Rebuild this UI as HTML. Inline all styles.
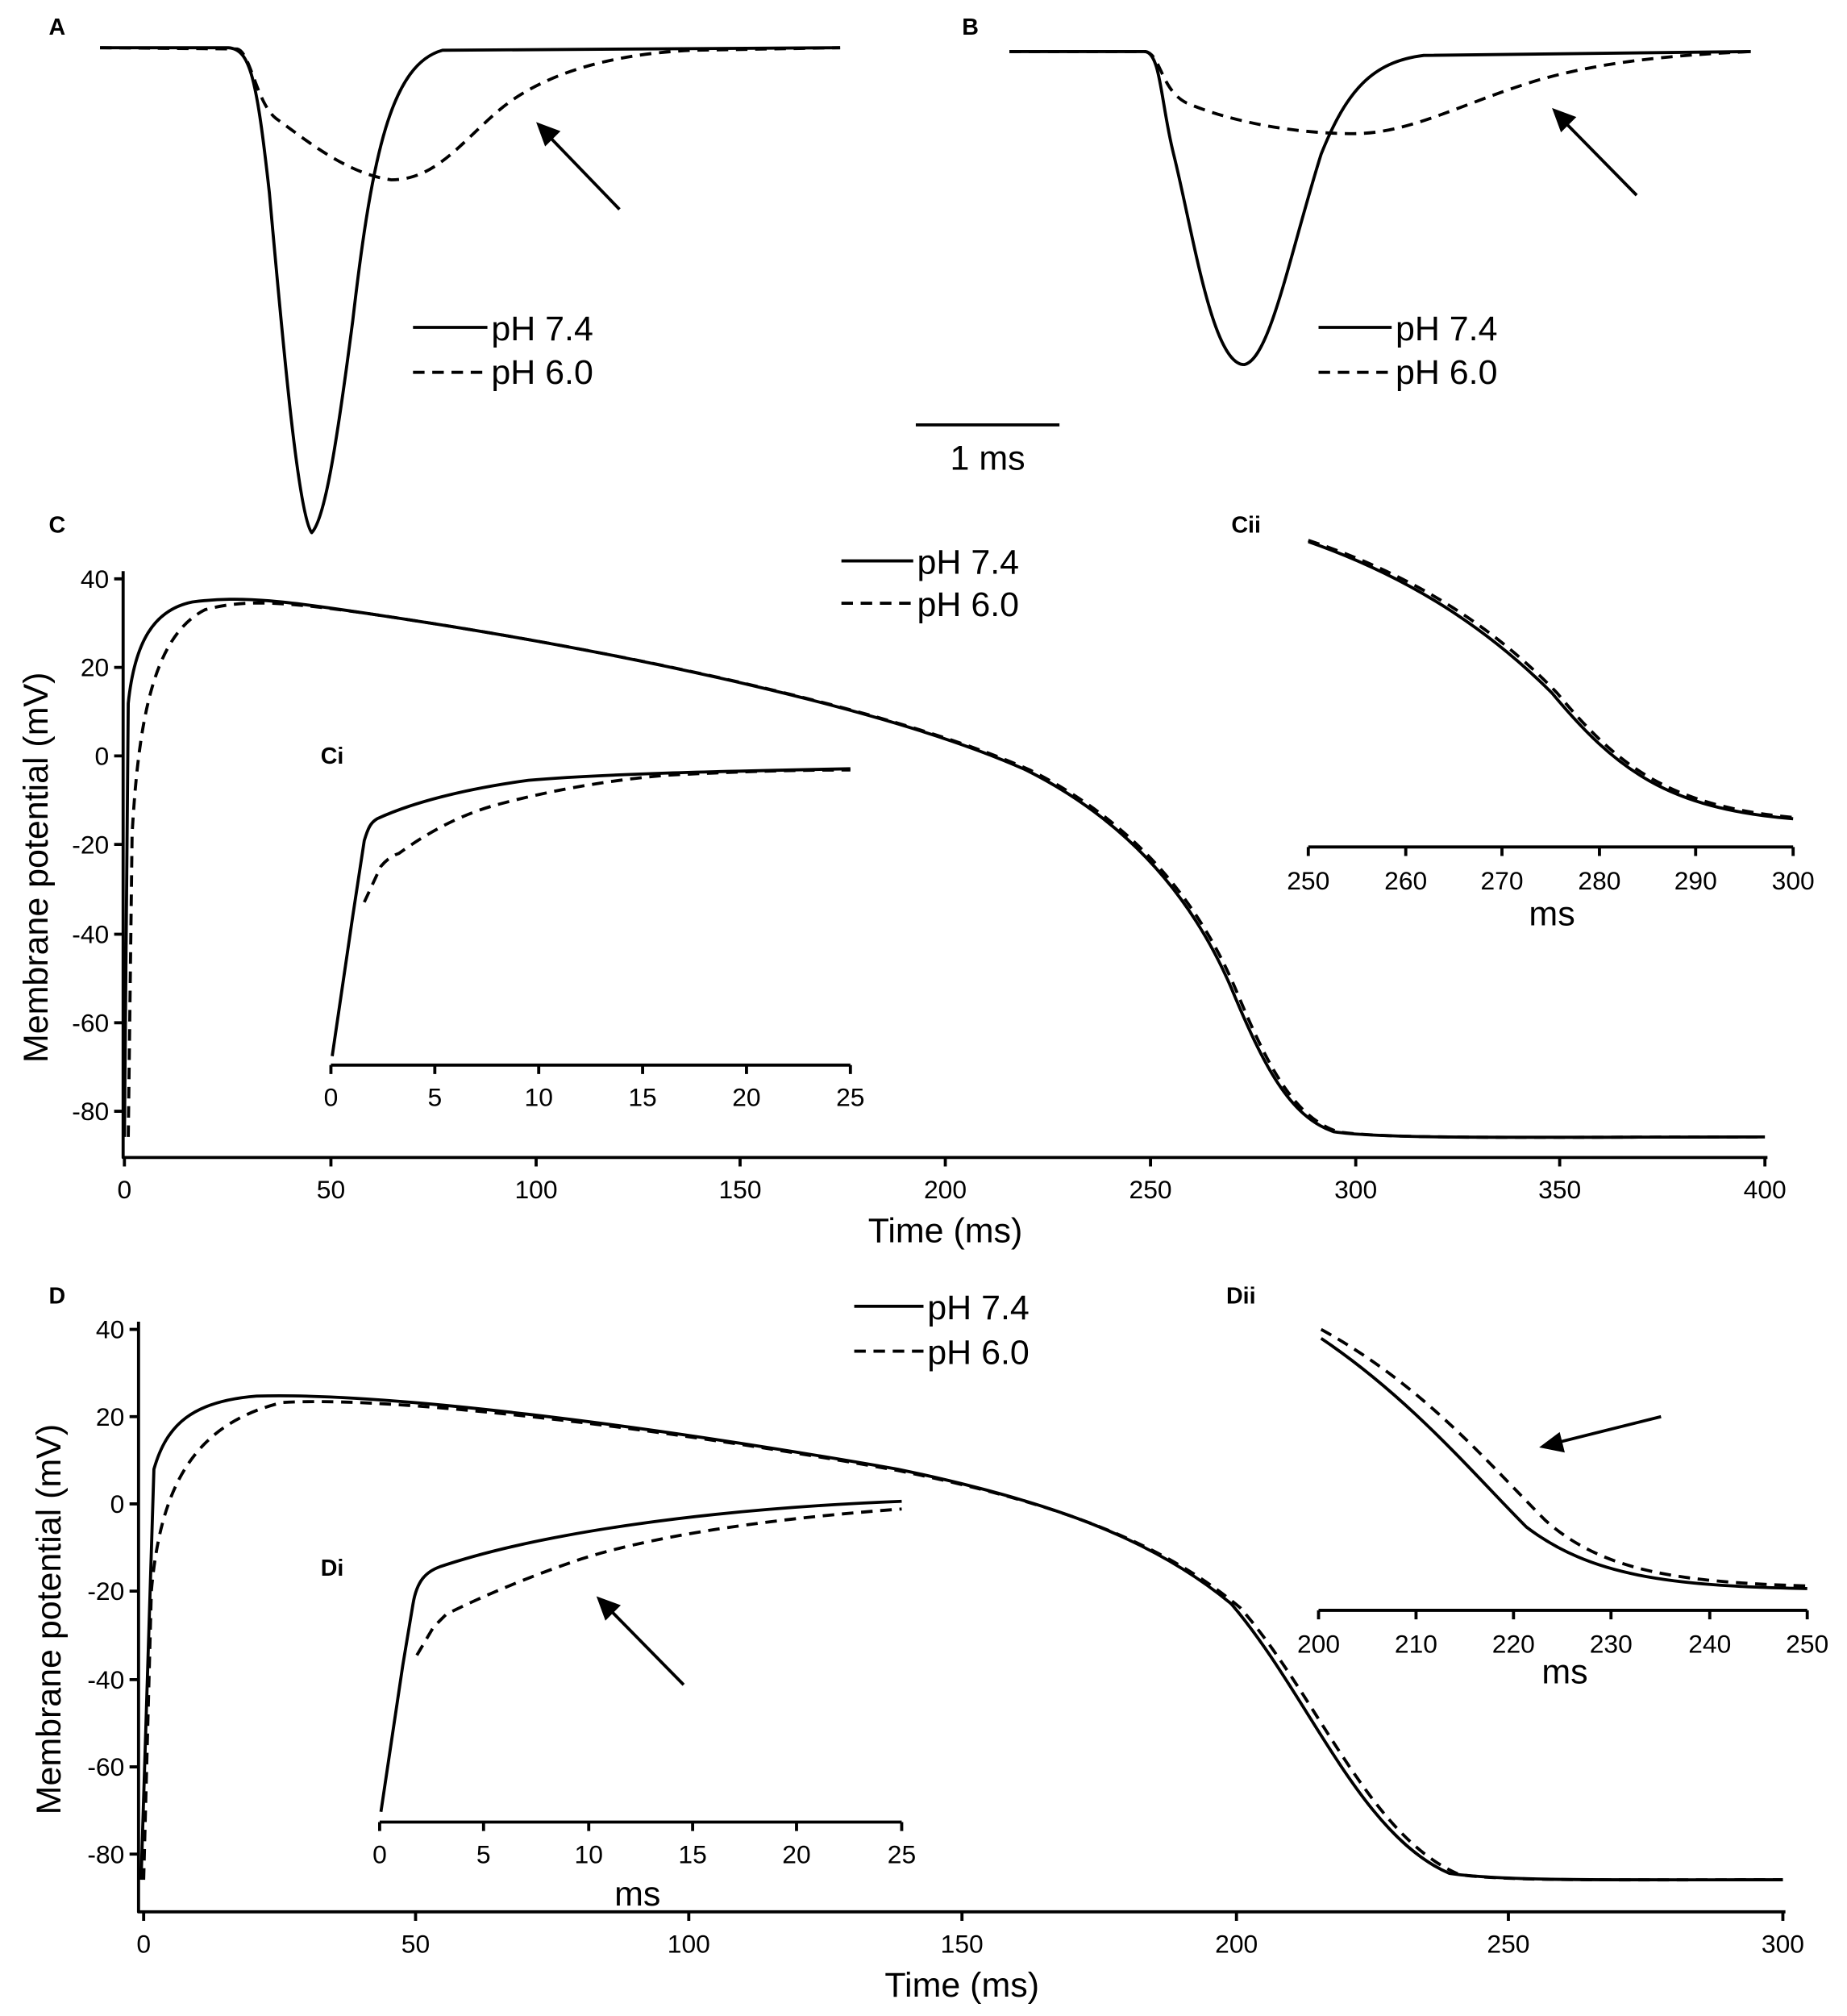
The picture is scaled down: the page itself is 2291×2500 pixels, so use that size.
<!DOCTYPE html>
<html><head><meta charset="utf-8"><style>html,body{margin:0;padding:0;background:#fff}svg{display:block}</style></head>
<body>
<svg xmlns="http://www.w3.org/2000/svg" width="2291" height="2500" viewBox="0 0 1440 1571" font-family="Liberation Sans, Arial, sans-serif">
<rect width="1440" height="1571" fill="#fff"/>
<g fill="none" stroke="#000" stroke-width="2.4" stroke-linejoin="round">
<!-- A -->
<path d="M78,37 L178,37 C195,38 200,60 210,150 C220,260 232,400 243,415 C253,405 262,350 275,250 C290,120 305,50 345,39 L655,37"/>
<path stroke-dasharray="9,6" d="M78,37 L185,38 C195,40 200,80 215,92 C240,110 270,135 305,140 C340,140 360,110 390,85 C420,60 470,42 540,39 L655,37"/>
<!-- B -->
<path d="M787,40 L893,40 C905,42 905,80 915,120 C930,180 945,284 970,284 C990,280 1005,200 1030,120 C1050,70 1070,48 1110,43 L1365,40"/>
<path stroke-dasharray="9,6" d="M787,40 L893,40 C905,42 905,70 925,80 C960,95 1010,104 1055,104 C1100,104 1140,80 1200,62 C1250,48 1300,43 1365,40"/>
<path d="M714,331 L826,331"/>
<!-- C main -->
<path d="M96,445 L96,902 L1378,902"/>
<path d="M97,886 L100,548 C105,500 120,475 150,469 C190,464 220,468 300,480 C500,510 700,555 800,600 C880,640 930,700 960,770 C985,830 1005,870 1040,882 C1080,888 1200,886 1376,886"/>
<path stroke-dasharray="9,6" d="M100,886 L103,650 C108,560 120,495 160,475 C190,467 220,468 300,480 C500,510 702,555 803,600 C883,640 933,700 963,770 C988,830 1008,870 1043,882 C1083,888 1200,886 1376,886"/>
<!-- Ci -->
<path d="M258,830 L663,830"/>
<path d="M259,823 L275,714 L284,655 C287,645 289,641 294,638 C320,626 360,615 412,608 C470,603 560,601 663,599"/>
<path stroke-dasharray="9,6" d="M284,703 L297,675 C303,668 308,666 311,665 C325,655 350,638 384,628 C420,618 470,608 521,604 C580,601 620,600 663,600"/>
<!-- Cii -->
<path d="M1020,660 L1398,660"/>
<path d="M1020,422 C1100,450 1160,490 1210,540 C1260,600 1300,630 1398,638"/>
<path stroke-dasharray="9,6" d="M1020,421 C1102,448 1164,488 1214,540 C1262,598 1302,628 1398,637"/>
<!-- D main -->
<path d="M108,1030 L108,1490 L1392,1490"/>
<path d="M110,1465 L120,1145 C130,1110 150,1092 200,1088 C300,1085 500,1110 700,1145 C820,1170 900,1200 960,1250 C1020,1320 1060,1430 1130,1460 C1170,1466 1250,1465 1390,1465"/>
<path stroke-dasharray="9,6" d="M112,1465 L118,1240 C125,1160 150,1110 220,1093 C300,1088 500,1110 700,1146 C824,1171 906,1202 967,1253 C1028,1323 1068,1432 1138,1461 C1175,1466 1250,1465 1390,1465"/>
<!-- Di -->
<path d="M296,1420 L703,1420"/>
<path d="M297,1412 L314,1298 L322,1250 C325,1232 332,1225 343,1221 C420,1195 550,1176 703,1170"/>
<path stroke-dasharray="9,6" d="M325,1290 L338,1268 L348,1258 C380,1242 420,1226 453,1215 C500,1200 580,1185 703,1176"/>
<!-- Dii -->
<path d="M1028,1255 L1409,1255"/>
<path d="M1030,1043 C1100,1090 1150,1150 1190,1190 C1240,1228 1300,1236 1409,1238"/>
<path stroke-dasharray="9,6" d="M1030,1036 C1110,1080 1160,1140 1205,1185 C1250,1225 1310,1233 1409,1236"/>
<!-- legends -->
<path d="M322,255 L380,255 M1028,255 L1085,255 M656,437 L712,437 M666,1018 L720,1018"/>
<path stroke-dasharray="9,6" d="M322,290 L380,290 M1028,290 L1085,290 M656,470 L712,470 M666,1053 L720,1053"/>
<!-- arrows -->
<path d="M483,163 L428,106 M1276,152 L1220,95 M533,1313 L475,1254 M1295,1104 L1215,1124"/>
<!-- ticks C -->
<path d="M89,451 H96 M89,520 H96 M89,589 H96 M89,658 H96 M89,728 H96 M89,797 H96 M89,866 H96"/>
<path d="M97,902 V909 M258,902 V909 M418,902 V909 M577,902 V909 M737,902 V909 M897,902 V909 M1057,902 V909 M1216,902 V909 M1376,902 V909"/>
<path d="M258,830 V837 M339,830 V837 M420,830 V837 M501,830 V837 M582,830 V837 M663,830 V837"/>
<path d="M1020,660 V667 M1096,660 V667 M1171,660 V667 M1247,660 V667 M1322,660 V667 M1398,660 V667"/>
<!-- ticks D -->
<path d="M101,1036 H108 M101,1104 H108 M101,1172 H108 M101,1240 H108 M101,1309 H108 M101,1377 H108 M101,1445 H108"/>
<path d="M112,1490 V1497 M324,1490 V1497 M537,1490 V1497 M750,1490 V1497 M964,1490 V1497 M1176,1490 V1497 M1390,1490 V1497"/>
<path d="M296,1420 V1427 M377,1420 V1427 M459,1420 V1427 M540,1420 V1427 M621,1420 V1427 M703,1420 V1427"/>
<path d="M1028,1255 V1262 M1104,1255 V1262 M1180,1255 V1262 M1256,1255 V1262 M1333,1255 V1262 M1409,1255 V1262"/>
</g>
<g fill="#000">
<polygon points="418,95 437,102 425,114"/>
<polygon points="1210,84 1229,91 1217,103"/>
<polygon points="465,1244 484,1251 472,1263"/>
<polygon points="1200,1128 1216,1116 1220,1132"/>
</g>
<g font-weight="bold" font-size="18">
<text x="38" y="27">A</text><text x="750" y="27">B</text><text x="38" y="415">C</text><text x="38" y="1016">D</text>
<text x="250" y="595">Ci</text><text x="960" y="415">Cii</text><text x="250" y="1228">Di</text><text x="956" y="1016">Dii</text>
</g>
<g font-size="27">
<text x="383" y="265">pH 7.4</text><text x="383" y="299">pH 6.0</text>
<text x="1088" y="265">pH 7.4</text><text x="1088" y="299">pH 6.0</text>
<text x="715" y="447">pH 7.4</text><text x="715" y="480">pH 6.0</text>
<text x="723" y="1028">pH 7.4</text><text x="723" y="1063">pH 6.0</text>
<text x="770" y="366" text-anchor="middle">1 ms</text>
<text x="737" y="968" text-anchor="middle">Time (ms)</text>
<text x="750" y="1556" text-anchor="middle">Time (ms)</text>
<text x="1210" y="721" text-anchor="middle">ms</text>
<text x="1220" y="1312" text-anchor="middle">ms</text>
<text x="497" y="1485" text-anchor="middle">ms</text>
<text transform="translate(37,676) rotate(-90)" text-anchor="middle">Membrane potential (mV)</text>
<text transform="translate(47,1262) rotate(-90)" text-anchor="middle">Membrane potential (mV)</text>
</g>
<g font-size="20" text-anchor="end">
<text x="85" y="458">40</text><text x="85" y="527">20</text><text x="85" y="596">0</text><text x="85" y="665">-20</text><text x="85" y="735">-40</text><text x="85" y="804">-60</text><text x="85" y="873">-80</text>
<text x="97" y="1043">40</text><text x="97" y="1111">20</text><text x="97" y="1179">0</text><text x="97" y="1247">-20</text><text x="97" y="1316">-40</text><text x="97" y="1384">-60</text><text x="97" y="1452">-80</text>
</g>
<g font-size="20" text-anchor="middle">
<text x="97" y="934">0</text><text x="258" y="934">50</text><text x="418" y="934">100</text><text x="577" y="934">150</text><text x="737" y="934">200</text><text x="897" y="934">250</text><text x="1057" y="934">300</text><text x="1216" y="934">350</text><text x="1376" y="934">400</text>
<text x="258" y="862">0</text><text x="339" y="862">5</text><text x="420" y="862">10</text><text x="501" y="862">15</text><text x="582" y="862">20</text><text x="663" y="862">25</text>
<text x="1020" y="693">250</text><text x="1096" y="693">260</text><text x="1171" y="693">270</text><text x="1247" y="693">280</text><text x="1322" y="693">290</text><text x="1398" y="693">300</text>
<text x="112" y="1522">0</text><text x="324" y="1522">50</text><text x="537" y="1522">100</text><text x="750" y="1522">150</text><text x="964" y="1522">200</text><text x="1176" y="1522">250</text><text x="1390" y="1522">300</text>
<text x="296" y="1452">0</text><text x="377" y="1452">5</text><text x="459" y="1452">10</text><text x="540" y="1452">15</text><text x="621" y="1452">20</text><text x="703" y="1452">25</text>
<text x="1028" y="1288">200</text><text x="1104" y="1288">210</text><text x="1180" y="1288">220</text><text x="1256" y="1288">230</text><text x="1333" y="1288">240</text><text x="1409" y="1288">250</text>
</g>
</svg>
</body></html>
